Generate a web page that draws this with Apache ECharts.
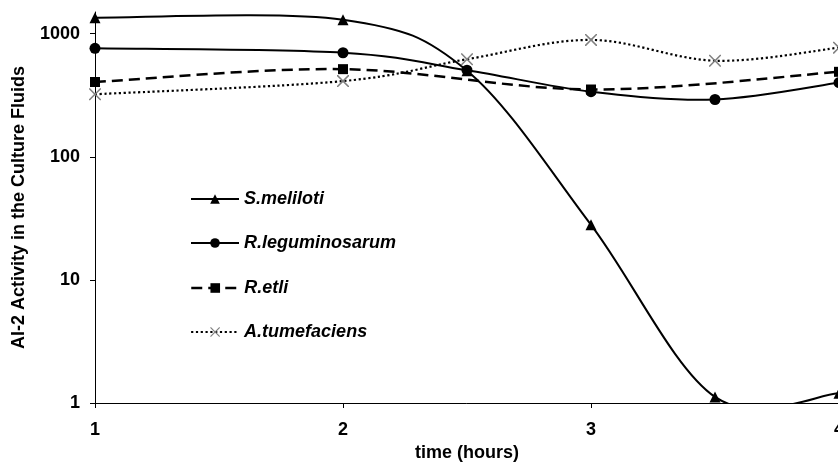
<!DOCTYPE html>
<html>
<head>
<meta charset="utf-8">
<script src="https://cdn.jsdelivr.net/npm/echarts@6/dist/echarts.min.js"></script>
<style>
html,body{margin:0;padding:0;background:#fff;}
#c{width:838px;height:463px;}
</style>
</head>
<body>
<div id="c"></div>
<script>
var timeHours = [1, 2, 2.5, 3, 3.5, 4];
var smeliloti = [1350, 1300, 500, 28, 1.12, 1.2];
var rleguminosarum = [760, 700, 505, 338, 292, 400];
var retliX = [1, 2, 3, 4];
var retli = [405, 515, 352, 490];
var atumefaciens = [322, 412, 620, 890, 603, 770];
var yTicks = [1, 10, 100, 1000];
var seriesNames = ['S.meliloti', 'R.leguminosarum', 'R.etli', 'A.tumefaciens'];

function pairs(xs, ys) { return xs.map(function (x, i) { return [x, ys[i]]; }); }

var FONT = 'Liberation Sans, Arial, sans-serif';
var FS = 18;
var crossPath = 'path://M0,0L0.9,0L5,4.1L9.1,0L10,0L10,0.9L5.9,5L10,9.1L10,10L9.1,10L5,5.9L0.9,10L0,10L0,9.1L4.1,5L0,0.9Z';

var styles = [
  { symbol: 'triangle', size: 11, color: '#000', line: { color: '#000', width: 2, type: 'solid' }, dash: null },
  { symbol: 'circle', size: 11, color: '#000', line: { color: '#000', width: 2, type: 'solid' }, dash: null },
  { symbol: 'rect', size: 10, color: '#000', line: { color: '#000', width: 2.5, type: [11, 6] }, dash: [11, 6] },
  { symbol: crossPath, size: 12, color: '#808080', line: { color: '#000', width: 2.2, type: [2.2, 2.6] }, dash: [2.2, 2.6] }
];
var xsList = [timeHours, timeHours, retliX, timeHours];
var ysList = [smeliloti, rleguminosarum, retli, atumefaciens];

// Catmull-Rom style smooth curve built from axis-mapped points
function curveSeries(idx) {
  var xs = xsList[idx], ys = ysList[idx], st = styles[idx];
  return {
    type: 'custom', name: seriesNames[idx] + ' curve', clip: true, z: 2, silent: true,
    data: pairs(xs, ys), encode: { x: 0, y: 1 },
    renderItem: function (params, api) {
      if (params.dataIndex !== 0) return { type: 'group', children: [] };
      var p = xs.map(function (x, i) { return api.coord([x, ys[i]]); });
      var n = p.length;
      var d = 'M' + p[0][0] + ' ' + p[0][1];
      for (var i = 0; i < n - 1; i++) {
        var p0 = p[Math.max(i - 1, 0)], p1 = p[i], p2 = p[i + 1], p3 = p[Math.min(i + 2, n - 1)];
        var c1x = p1[0] + (p2[0] - p0[0]) / 6, c1y = p1[1] + (p2[1] - p0[1]) / 6;
        var c2x = p2[0] - (p3[0] - p1[0]) / 6, c2y = p2[1] - (p3[1] - p1[1]) / 6;
        d += ' C' + c1x + ' ' + c1y + ' ' + c2x + ' ' + c2y + ' ' + p2[0] + ' ' + p2[1];
      }
      return {
        type: 'path', shape: { pathData: d },
        style: { fill: 'none', stroke: st.line.color, lineWidth: st.line.width, lineDash: st.dash }
      };
    }
  };
}

function markerSeries(idx) {
  var st = styles[idx];
  return {
    name: seriesNames[idx], type: 'line', z: 3,
    data: pairs(xsList[idx], ysList[idx]),
    symbol: st.symbol, symbolSize: st.size, showSymbol: true,
    lineStyle: { opacity: 0 }, itemStyle: { color: st.color }
  };
}

var legendTops = [190, 234, 279, 323];
var legends = seriesNames.map(function (n, i) {
  var st = styles[i];
  return {
    data: [{ name: n, lineStyle: { color: st.line.color, width: st.line.width, type: st.line.type, opacity: 1 }, itemStyle: { color: st.color } }],
    left: 190, top: legendTops[i], orient: 'vertical',
    itemWidth: 48, itemHeight: 12, itemGap: 0, padding: 0,
    textStyle: { fontFamily: FONT, fontSize: FS, fontWeight: 'bold', fontStyle: 'italic', color: '#000' },
    selectedMode: false
  };
});

var chart = echarts.init(document.getElementById('c'));
chart.setOption({
  animation: false,
  backgroundColor: '#fff',
  grid: { left: 95, right: -1, top: 12, bottom: 60, outerBoundsMode: 'none', containLabel: false },
  legend: legends,
  xAxis: {
    type: 'value', min: 1, max: 4, interval: 1,
    name: 'time (hours)', nameLocation: 'middle', nameGap: 41,
    nameTextStyle: { fontFamily: FONT, fontSize: FS, fontWeight: 'bold', color: '#000' },
    axisLine: { show: true, lineStyle: { color: '#000', width: 1 } },
    axisTick: { show: true, length: 5, lineStyle: { color: '#000' } },
    axisLabel: { margin: 18, fontFamily: FONT, fontSize: FS, fontWeight: 'bold', color: '#000' },
    splitLine: { show: false }
  },
  yAxis: {
    type: 'log', logBase: 10, min: 1, max: 1500,
    name: 'AI-2 Activity in the Culture Fluids', nameLocation: 'middle', nameGap: 67,
    nameTextStyle: { fontFamily: FONT, fontSize: FS, fontWeight: 'bold', color: '#000' },
    axisLine: { show: true, lineStyle: { color: '#000', width: 1 } },
    axisTick: { show: true, length: 5, lineStyle: { color: '#000' }, customValues: yTicks },
    axisLabel: { margin: 15, fontFamily: FONT, fontSize: FS, fontWeight: 'bold', color: '#000', customValues: yTicks,
      formatter: function (v) { return String(Math.round(v)); } },
    splitLine: { show: false }
  },
  series: [0, 1, 2, 3].map(curveSeries).concat([0, 1, 2, 3].map(markerSeries))
});
</script>
</body>
</html>
